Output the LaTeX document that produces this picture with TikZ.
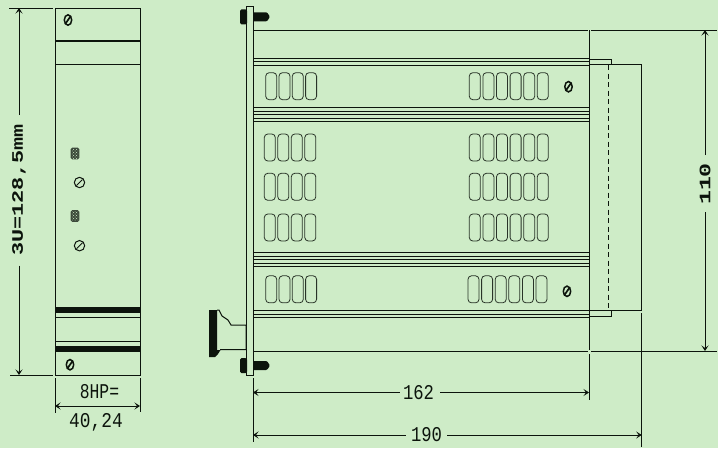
\documentclass[tikz,border=0pt]{standalone}
\usepackage{fontspec}
\usepackage{graphicx}
\setmainfont{Liberation Mono}
\usetikzlibrary{arrows.meta,patterns}
\definecolor{bg}{HTML}{CEECC7}
\definecolor{ink}{HTML}{0C140C}
\tikzset{
  px/.style={x=1pt,y=-1pt},
  ln/.style={draw=ink,line width=1pt},
  thin line/.style={draw=ink,line width=0.8pt},
  slot/.style={draw=ink!85!bg,line width=0.8pt,rounded corners=3.5pt},
  dim/.style={draw=ink,line width=1pt,{Stealth[length=5.5pt,width=7pt,inset=2.5pt]}-{Stealth[length=5.5pt,width=7pt,inset=2.5pt]}},
  dimend/.style={draw=ink,line width=1pt,-{Stealth[length=5.5pt,width=7pt,inset=2.5pt]}},
  lbl/.style={text=ink,inner sep=0pt},
  tall/.style={lbl,font=\fontsize{21}{21}\selectfont},
  wide/.style={lbl,rotate=90,font=\bfseries\fontsize{16}{16}\selectfont},
}
\newcommand{\slotrow}[4]{% x, y, count, pitch
  \foreach \i in {1,...,#3}{
    \draw[slot] ({#1+(\i-1)*#4},#2) rectangle ({#1+(\i-1)*#4+11},{#2+27});
  }}
\newcommand{\slashscrew}[2]{%
  \draw[ink,line width=1.5pt] (#1,#2) ellipse [x radius=3.7pt,y radius=5.2pt];
  \draw[ink,line width=1.7pt] ({#1-2.8},{#2+4}) -- ({#1+2.8},{#2-4});}
\newcommand{\openscrew}[2]{%
  \draw[ink,line width=1pt] (#1,#2) circle [radius=5.2pt];
  \draw[ink,line width=0.9pt] ({#1-3},{#2+3}) -- ({#1+3},{#2-3});}
\newcommand{\hatchscrew}[2]{%
  \fill[ink!75!bg,rounded corners=1.5pt] ({#1-4.3},{#2-5.8}) rectangle ({#1+4.3},{#2+5.8});
  \fill[pattern=crosshatch dots,pattern color=bg] ({#1-3},{#2-4.5}) rectangle ({#1+3},{#2+4.5});}
\newcommand{\boltT}[1]{%
  \fill[ink,rounded corners=1.5pt] (240,{#1-7.5}) rectangle (247,{#1+7.5});
  \fill[ink,rounded corners=1pt] (253,{#1-4.5}) -- (267,{#1-4.5}) -- (270,#1) -- (267,{#1+4.5}) -- (253,{#1+4.5}) -- cycle;}
\begin{document}
\begin{tikzpicture}[px]
\useasboundingbox (0,0) rectangle (718,448);
\fill[bg] (0,0) rectangle (718,448);

% left view
\draw[ln] (55,8) rectangle (140,375);
\draw[ln,line width=1.4pt] (55,41) -- (140,41);
\draw[ln] (55,64.5) -- (140,64.5);
\fill[ink] (55,306.7) rectangle (140,312.7);
\draw[ln] (55,317.5) -- (140,317.5);
\draw[ln] (55,341) -- (140,341);
\fill[ink] (55,346) rectangle (140,352);
\slashscrew{68}{20}
\slashscrew{70}{364.7}
\hatchscrew{75}{153.5}
\hatchscrew{75}{216}
\openscrew{79.5}{182.5}
\openscrew{79.5}{245.7}
\coordinate (lt) at (19,8);
\coordinate (lb) at (19,375);
\draw[ln] (9,8) -- (53,8);
\draw[ln] (10,375) -- (53,375);
\node[wide] (h) at (19,190) {\scalebox{1.36}[1]{3U=128,5mm}};
\draw[dimend] (19,115) -- (lt);
\draw[dimend] (19,265.5) -- (lb);
\draw[ln] (55,378) -- (55,413);
\draw[ln] (140,378) -- (140,412);
\coordinate (wl) at (55,406);
\coordinate (wr) at (140,406);
\draw[dim] (wl) -- (wr);
\node[tall] (hp) at (99.5,392) {\scalebox{0.78}[1]{8HP=}};
\node[tall] (w) at (96,422) {\scalebox{0.85}[1]{40,24}};

% front panel
\draw[ln] (246.5,6.5) rectangle (253,375.5);
\boltT{16.8}
\boltT{365.5}
% handle
\fill[ink] (209,310) -- (217,310) -- (217,350) -- (220.5,350) -- (218,354) -- (215,357) -- (209,357) -- cycle;
\draw[ln] (217,310) -- (219,310) -- (222,316) -- (228,320) -- (231,325) -- (246,325) -- (246,349.5) -- (220,349.5);

% body
\draw[ln] (253,30) -- (588,30);
\draw[ln] (591,30) -- (717,30);
\draw[ln] (253,351) -- (588,351);
\draw[ln] (591,351) -- (717,351);
\draw[ln] (589,30) -- (589,350);
\draw[ln] (589,354) -- (589,400);
\foreach \y in {58,61.5,65,107.5,111,114.7,118,121.5,252.3,256,259.7,263,266.3,310.5,314,317.7}
  \draw[ln] (253,\y) -- (589,\y);
% board
\draw[thin line] (589,59.5) -- (611.3,59.5) -- (611.3,64.5);
\draw[ln] (589,64.5) -- (641.7,64.5) -- (641.7,310) -- (589,310);
\draw[thin line] (589,316) -- (611.3,316) -- (611.3,310);
\draw[ln,dash pattern=on 5pt off 3.5pt] (608.7,65) -- (608.7,310);
\draw[ln] (641.7,313) -- (641.7,447);

% slots
\slotrow{265.7}{72.7}{4}{13.3}
\slotrow{264.3}{134}{4}{13.5}
\slotrow{264.3}{173.3}{4}{13.5}
\slotrow{264.3}{214}{4}{13.5}
\slotrow{265.7}{275.8}{4}{13.3}
\slotrow{469.3}{72.7}{6}{13.6}
\slotrow{469.3}{134}{6}{13.6}
\slotrow{469.3}{173.3}{6}{13.6}
\slotrow{469.3}{214}{6}{13.6}
\slotrow{468}{275.8}{6}{13.6}
\slashscrew{568.5}{86.7}
\slashscrew{567}{291.3}

% dimensions
\draw[ln] (253,378) -- (253,442);
\coordinate (a1) at (253,392.5);
\coordinate (a2) at (589,392.5);
\coordinate (b1) at (253,435);
\coordinate (b2) at (641.7,435);
\node[tall] (n162) at (418.5,392.5) {\scalebox{0.82}[1]{162}};
\node[tall] (n190) at (426.5,435) {\scalebox{0.82}[1]{190}};
\draw[dimend] (n162.west) ++(-3,0) -- (a1);
\draw[dimend] (n162.east) ++(6,0) -- (a2);
\draw[dimend] (n190.west) ++(-5,0) -- (b1);
\draw[dimend] (n190.east) ++(5,0) -- (b2);
\coordinate (c1) at (705,30);
\coordinate (c2) at (705,351);
\node[wide] (n110) at (705,184) {\scalebox{1.45}[1]{110}};
\draw[dimend] (705,155) -- (c1);
\draw[dimend] (705,212) -- (c2);
\end{tikzpicture}
\end{document}
